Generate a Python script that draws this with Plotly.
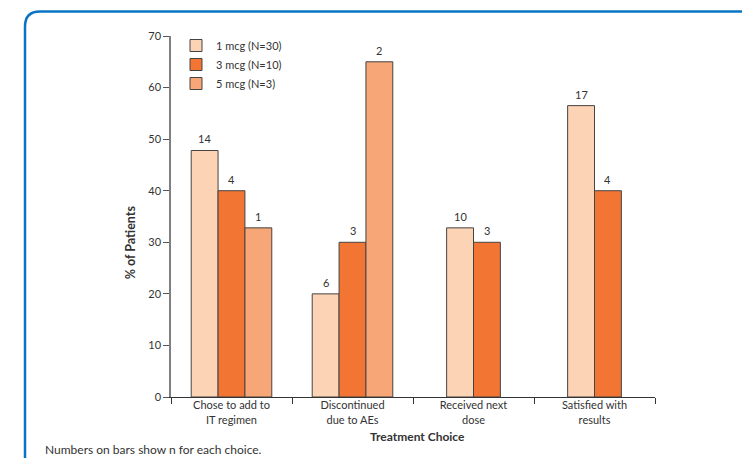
import plotly.graph_objects as go

# Treatment choice categories (two-line tick labels)
categories = [
    "Chose to add to<br>IT regimen",
    "Discontinued<br>due to AEs",
    "Received next<br>dose",
    "Satisfied with<br>results",
]

# Dose groups
series_names = ["1 mcg (N=30)", "3 mcg (N=10)", "5 mcg (N=3)"]

# Percent of patients per choice
pct_1mcg = [47.8, 20.0, 32.8, 56.5]
pct_3mcg = [40.0, 30.0, 30.0, 40.0]
pct_5mcg = [32.8, 65.0, None, None]

# Number of patients (n) per choice
n_1mcg = [14, 6, 10, 17]
n_3mcg = [4, 3, 3, 4]
n_5mcg = [1, 2, None, None]

y_ticks = [0, 10, 20, 30, 40, 50, 60, 70]

series_pct = [pct_1mcg, pct_3mcg, pct_5mcg]
series_n = [n_1mcg, n_3mcg, n_5mcg]
colors = ["#FCD3B4", "#F27533", "#F6A677"]

TEXT = "#333333"
FONT = "Lato"
BAR_W = 0.222

# Plot-area geometry in pixels (used to place decorations in paper coords)
W, H = 742, 458
ML, MR, MT, MB = 171, 87, 36, 61
PW, PH = W - ML - MR, H - MT - MB


def px_x(px):
    return (px - ML) / PW


def px_y(py):
    return (H - MB - py) / PH


# Bars present in each category, so partial groups stay centred
present = [
    [s for s in range(len(series_pct)) if series_pct[s][c] is not None]
    for c in range(len(categories))
]

fig = go.Figure()
annotations = []

for s, (name, vals, ns, col) in enumerate(zip(series_names, series_pct, series_n, colors)):
    xs, ys, offs = [], [], []
    for c, v in enumerate(vals):
        if v is None:
            continue
        k = len(present[c])
        rank = present[c].index(s)
        off = -k * BAR_W / 2 + rank * BAR_W
        xs.append(categories[c])
        ys.append(v)
        offs.append(off)
        annotations.append(dict(
            x=c + off + BAR_W / 2, y=v, xref="x", yref="y",
            text=str(ns[c]), showarrow=False, yanchor="bottom", yshift=3,
            font=dict(family=FONT, size=11, color=TEXT),
        ))
    fig.add_trace(go.Bar(
        name=name, x=xs, y=ys, offset=offs, width=BAR_W,
        marker=dict(color=col, line=dict(color="#444444", width=1)),
        hoverinfo="y",
    ))

# Axis titles and footnote
annotations.append(dict(
    x=px_x(130), y=30, xref="paper", yref="y",
    text="<b>% of Patients</b>", textangle=-90, showarrow=False,
    xanchor="center", yanchor="middle",
    font=dict(family=FONT, size=12.5, color=TEXT),
))
annotations.append(dict(
    x=px_x(417), y=px_y(436), xref="paper", yref="paper",
    text="<b>Treatment Choice</b>", showarrow=False,
    xanchor="center", yanchor="middle",
    font=dict(family=FONT, size=12, color=TEXT),
))
annotations.append(dict(
    x=px_x(43), y=px_y(449), xref="paper", yref="paper",
    text="Numbers on bars show n for each choice.", showarrow=False,
    xanchor="left", yanchor="middle",
    font=dict(family=FONT, size=12, color=TEXT),
))

# Rounded blue frame, open to the right and bottom
fl, ft, r = 25, 11.5, 15
frame = (
    f"M {px_x(fl)},{px_y(H + 20)} L {px_x(fl)},{px_y(ft + r)} "
    f"Q {px_x(fl)},{px_y(ft)} {px_x(fl + r)},{px_y(ft)} L {px_x(W + 20)},{px_y(ft)}"
)

fig.update_layout(
    width=W, height=H,
    margin=dict(l=ML, r=MR, t=MT, b=MB, pad=0),
    paper_bgcolor="white", plot_bgcolor="white",
    barmode="overlay",
    showlegend=True,
    legend=dict(
        x=px_x(176), y=px_y(31), xanchor="left", yanchor="top",
        font=dict(family=FONT, size=11, color=TEXT),
        bgcolor="rgba(0,0,0,0)", tracegroupgap=0, itemwidth=30,
    ),
    font=dict(family=FONT, size=11, color=TEXT),
    annotations=annotations,
    shapes=[dict(
        type="path", path=frame, xref="paper", yref="paper",
        line=dict(color="#0A74C4", width=2.5), layer="above",
    )],
    xaxis=dict(
        type="category", categoryorder="array", categoryarray=categories,
        range=[-0.5, 3.5], tickson="boundaries",
        showline=True, linecolor="#333333", linewidth=1.2,
        ticks="outside", ticklen=6, tickcolor="#333333", tickwidth=1.2,
        ticklabelstandoff=-2,
        showgrid=False, zeroline=False,
        tickfont=dict(family=FONT, size=11, color=TEXT),
    ),
    yaxis=dict(
        range=[0, 70], tickvals=y_ticks,
        showline=True, linecolor="#7F7F7F", linewidth=1.5,
        ticks="outside", ticklen=6, tickcolor="#555555", tickwidth=1,
        showgrid=False, zeroline=False,
        tickfont=dict(family=FONT, size=11, color=TEXT),
    ),
)

fig.write_html("out.html")
